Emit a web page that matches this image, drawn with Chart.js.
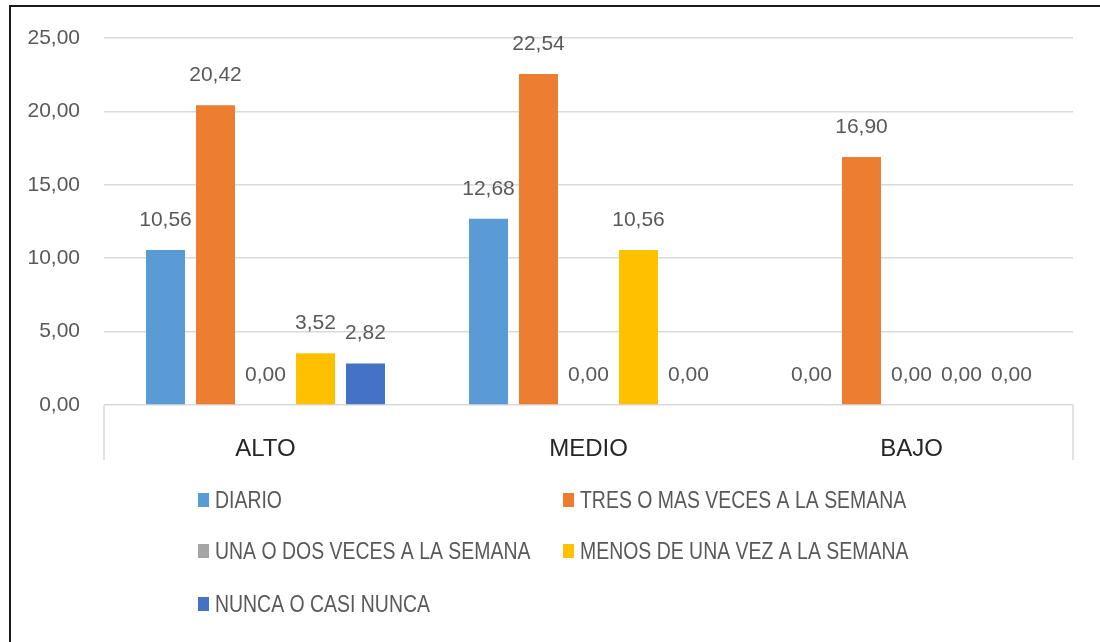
<!DOCTYPE html>
<html>
<head>
<meta charset="utf-8">
<script src="https://cdn.jsdelivr.net/npm/chart.js@4.4.1/dist/chart.umd.min.js"></script>
<style>
  html, body { margin: 0; padding: 0; background: #fff; }
  #wrap { position: relative; width: 1100px; height: 642px; }
</style>
</head>
<body>
<div id="wrap"><canvas id="c" width="1100" height="642"></canvas></div>
<script>
const categories = ["ALTO", "MEDIO", "BAJO"];
const seriesNames = [
  "DIARIO",
  "TRES O MAS VECES A LA SEMANA",
  "UNA O DOS VECES A LA SEMANA",
  "MENOS DE UNA VEZ A LA SEMANA",
  "NUNCA O CASI NUNCA"
];
const diario = [10.56, 12.68, 0.00];
const tresOMas = [20.42, 22.54, 16.90];
const unaODos = [0.00, 0.00, 0.00];
const menosDeUna = [3.52, 10.56, 0.00];
const nunca = [2.82, 0.00, 0.00];
const yTicks = [0, 5, 10, 15, 20, 25];

const seriesValues = [diario, tresOMas, unaODos, menosDeUna, nunca];
const colors = ["#5B9BD5", "#ED7D31", "#A5A5A5", "#FFC000", "#4472C4"];

const fmt = v => v.toFixed(2).replace(".", ",");

const labelPlugin = {
  id: "valueLabels",
  afterDatasetsDraw(chart) {
    const ctx = chart.ctx;
    ctx.save();
    ctx.font = '21px "Liberation Sans", sans-serif';
    ctx.fillStyle = "#595959";
    ctx.textAlign = "center";
    ctx.textBaseline = "middle";
    chart.data.datasets.forEach((ds, i) => {
      const meta = chart.getDatasetMeta(i);
      meta.data.forEach((el, j) => {
        ctx.fillText(fmt(ds.data[j]), el.x, el.y - 30);
      });
    });
    ctx.restore();
  }
};

const framePlugin = {
  id: "frame",
  beforeDraw(chart) {
    const ctx = chart.ctx;
    const a = chart.chartArea;
    ctx.save();
    ctx.strokeStyle = "#1a1a1a";
    ctx.lineWidth = 2;
    ctx.beginPath();
    ctx.moveTo(10, 642);
    ctx.lineTo(10, 6);
    ctx.lineTo(1100, 6);
    ctx.stroke();
    ctx.strokeStyle = "#d9d9d9";
    ctx.lineWidth = 1.5;
    ctx.beginPath();
    ctx.moveTo(a.left, a.bottom);
    ctx.lineTo(a.left, a.bottom + 55);
    ctx.moveTo(a.right, a.bottom);
    ctx.lineTo(a.right, a.bottom + 55);
    ctx.stroke();
    ctx.restore();
  },
  afterDraw(chart) {
    const ctx = chart.ctx;
    const colX = [198, 563];
    const rowY = [500, 551, 604];
    const sx = 0.81;
    ctx.save();
    ctx.font = '24px "Liberation Sans", sans-serif';
    ctx.textBaseline = "middle";
    ctx.textAlign = "left";
    chart.data.datasets.forEach((ds, i) => {
      const x = colX[i % 2];
      const y = rowY[Math.floor(i / 2)];
      ctx.fillStyle = ds.backgroundColor;
      ctx.fillRect(x, y - 7, 11, 14);
      ctx.save();
      ctx.translate(x + 17, y + 1);
      ctx.scale(sx, 1);
      ctx.fillStyle = "#595959";
      ctx.fillText(ds.label, 0, 0);
      ctx.restore();
    });
    ctx.restore();
  }
};

new Chart(document.getElementById("c"), {
  type: "bar",
  data: {
    labels: categories,
    datasets: seriesNames.map((name, i) => ({
      label: name,
      data: seriesValues[i],
      backgroundColor: colors[i],
      borderWidth: 0,
      categoryPercentage: 0.774,
      barPercentage: 0.78
    }))
  },
  options: {
    responsive: false,
    animation: false,
    devicePixelRatio: 1,
    layout: { padding: { top: 38, right: 27, left: 0, bottom: 0 } },
    plugins: {
      legend: { display: false },
      tooltip: { enabled: false }
    },
    scales: {
      x: {
        grid: { display: false },
        border: { display: false },
        ticks: {
          padding: 22,
          color: "#262626",
          font: { family: '"Liberation Sans", sans-serif', size: 24 }
        },
        afterFit(scale) { scale.height = 642 - 405; }
      },
      y: {
        min: 0,
        max: 25,
        afterBuildTicks(scale) { scale.ticks = yTicks.map(v => ({ value: v })); },
        grid: { color: "#d9d9d9", lineWidth: 1.5, drawTicks: false },
        border: { display: false },
        ticks: {
          padding: 24,
          color: "#595959",
          font: { family: '"Liberation Sans", sans-serif', size: 21 },
          callback: v => fmt(v)
        },
        afterFit(scale) { scale.width = 104; }
      }
    }
  },
  plugins: [labelPlugin, framePlugin]
});
</script>
</body>
</html>
